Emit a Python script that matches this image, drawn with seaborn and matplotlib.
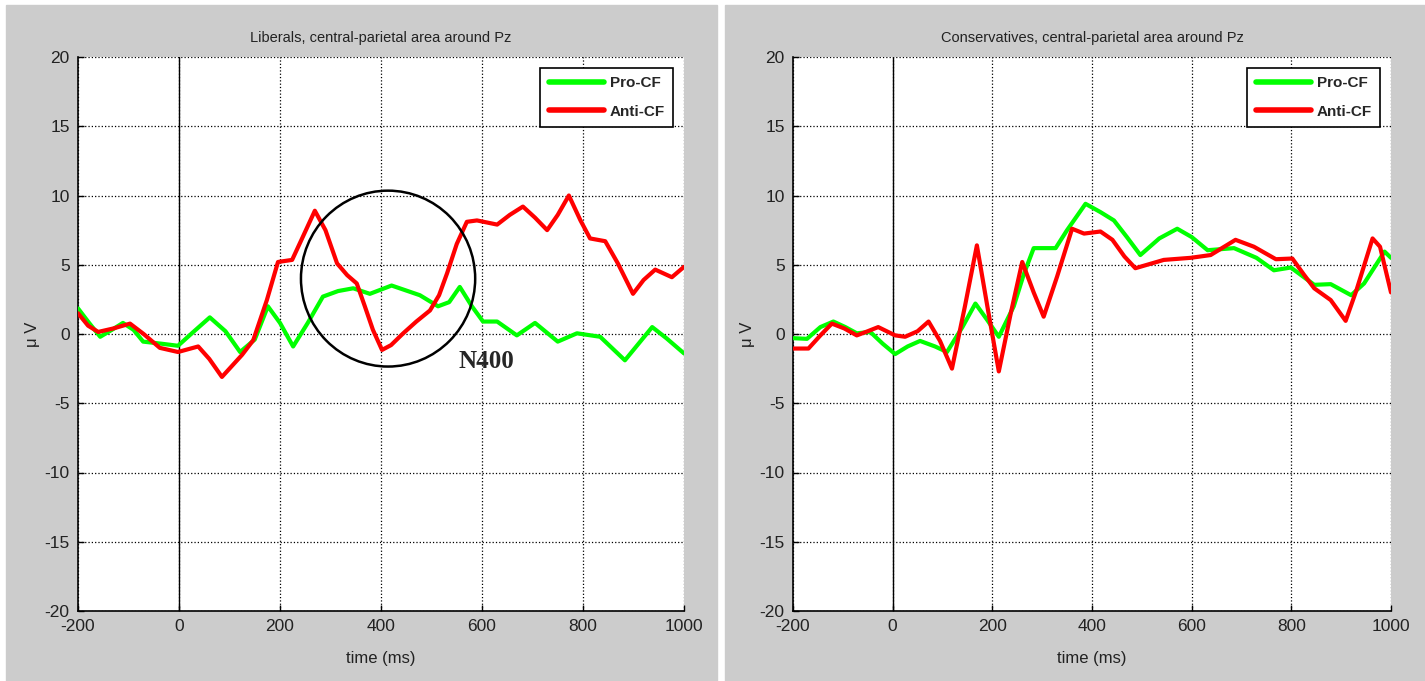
import matplotlib
matplotlib.use("Agg")
import matplotlib.pyplot as plt
import pandas as pd
import seaborn as sns
import numpy as np
from matplotlib.patches import Rectangle, Ellipse

# ---- data (time in ms, amplitude in uV) ----
lib_pro_t = [-200, -178, -156, -133, -111, -90, -71, -35, -2, 30, 61, 92, 121, 150, 176, 200,
             226, 255, 285, 315, 345, 378, 421, 477, 513, 535, 556, 580, 602, 630, 669, 705,
             750, 788, 834, 883, 937, 965, 1000]
lib_pro_v = [1.85, 0.8, -0.2, 0.3, 0.8, 0.3, -0.55, -0.7, -0.85, 0.2, 1.2, 0.2, -1.3, -0.4, 2.0, 0.8,
             -0.9, 0.8, 2.7, 3.1, 3.3, 2.9, 3.5, 2.8, 2.0, 2.3, 3.4, 2.0, 0.9, 0.9, -0.1, 0.8,
             -0.55, 0.05, -0.2, -1.9, 0.5, -0.3, -1.4]

lib_anti_t = [-200, -180, -160, -130, -97, -70, -38, -2, 38, 60, 85, 105, 125, 147, 174, 196,
              224, 245, 269, 290, 313, 333, 352, 368, 384, 402, 420, 444, 470, 497, 515, 531,
              550, 570, 590, 630, 655, 681, 705, 729, 750, 772, 795, 814, 844, 869, 899, 920,
              943, 976, 1000]
lib_anti_v = [1.5, 0.6, 0.15, 0.4, 0.75, 0.0, -1.0, -1.3, -0.9, -1.8, -3.1, -2.3, -1.5, -0.45, 2.45, 5.2,
              5.35, 7.0, 8.9, 7.5, 5.1, 4.25, 3.65, 2.0, 0.3, -1.15, -0.8, 0.05, 0.9, 1.7, 2.8, 4.4,
              6.5, 8.1, 8.2, 7.9, 8.6, 9.2, 8.4, 7.5, 8.6, 10.0, 8.2, 6.9, 6.7, 5.1, 2.9, 3.9,
              4.65, 4.1, 4.85]

con_pro_t = [-200, -172, -145, -119, -95, -72, -45, -20, 5, 30, 55, 85, 109, 140, 166, 190,
             213, 243, 263, 283, 327, 350, 387, 417, 444, 470, 497, 535, 571, 600, 632, 685,
             730, 765, 799, 846, 879, 920, 946, 987, 1000]
con_pro_v = [-0.3, -0.35, 0.5, 0.9, 0.5, 0.05, 0.15, -0.7, -1.45, -0.9, -0.5, -0.9, -1.3, 0.5, 2.2, 1.0,
             -0.2, 2.0, 4.3, 6.2, 6.2, 7.5, 9.4, 8.8, 8.2, 7.0, 5.7, 6.9, 7.6, 7.0, 6.05, 6.2,
             5.5, 4.6, 4.8, 3.55, 3.6, 2.8, 3.65, 5.95, 5.5]

con_anti_t = [-200, -169, -145, -122, -97, -72, -50, -29, 5, 25, 50, 72, 95, 119, 145, 169,
              190, 213, 237, 260, 283, 303, 330, 360, 384, 417, 441, 465, 487, 544, 598, 638,
              688, 725, 769, 802, 825, 846, 879, 909, 931, 963, 978, 1000]
con_anti_v = [-1.05, -1.05, -0.1, 0.75, 0.4, -0.1, 0.2, 0.5, -0.1, -0.2, 0.2, 0.9, -0.5, -2.5, 2.0, 6.4,
              2.0, -2.7, 1.5, 5.2, 3.0, 1.25, 4.15, 7.6, 7.25, 7.4, 6.8, 5.6, 4.75, 5.35, 5.5, 5.7,
              6.8, 6.3, 5.4, 5.45, 4.3, 3.3, 2.45, 0.95, 3.2, 6.9, 6.3, 3.0]

conditions = ["Pro-CF", "Anti-CF"]
titles = ["Liberals, central-parietal area around Pz",
          "Conservatives, central-parietal area around Pz"]
x_ticks = [-200, 0, 200, 400, 600, 800, 1000]
y_ticks = [-20, -15, -10, -5, 0, 5, 10, 15, 20]

# N400 annotation (left panel)
circle_center = (414, 4.0)
circle_size = (345, 12.7)
n400_pos = (553, -2.0)


def make_frame(pro_t, pro_v, anti_t, anti_v):
    a = pd.DataFrame({"time": pro_t, "uV": pro_v, "cond": conditions[0]})
    b = pd.DataFrame({"time": anti_t, "uV": anti_v, "cond": conditions[1]})
    return pd.concat([a, b], ignore_index=True)


frames = [make_frame(lib_pro_t, lib_pro_v, lib_anti_t, lib_anti_v),
          make_frame(con_pro_t, con_pro_v, con_anti_t, con_anti_v)]

sns.set_style("white")
plt.rcParams["font.family"] = ["Liberation Sans", "DejaVu Sans"]
plt.rcParams["axes.unicode_minus"] = False

fig = plt.figure(figsize=(14.25, 6.81), dpi=100, facecolor="white")
gray = "#cccccc"
fig.patches.append(Rectangle((6 / 1425, 0), (717 - 6) / 1425, 676 / 681,
                             transform=fig.transFigure, color=gray, zorder=-10))
fig.patches.append(Rectangle((725 / 1425, 0), 700 / 1425, 676 / 681,
                             transform=fig.transFigure, color=gray, zorder=-10))

ax_pos = [[78 / 1425, 70 / 681, 606 / 1425, 554 / 681],
          [793 / 1425, 70 / 681, 598 / 1425, 554 / 681]]
palette = {"Pro-CF": "#00ff00", "Anti-CF": "#ff0000"}

for i in range(2):
    ax = fig.add_axes(ax_pos[i])
    ax.set_facecolor("white")
    sns.lineplot(data=frames[i], x="time", y="uV", hue="cond", palette=palette,
                 estimator=None, sort=False, linewidth=3.0, ax=ax, zorder=3)
    for ln in ax.get_lines():
        ln.set_solid_joinstyle("round")
        ln.set_solid_capstyle("round")
    ax.set_xlim(-200, 1000)
    ax.set_ylim(-20, 20)
    ax.set_xticks(x_ticks)
    ax.set_yticks(y_ticks)
    ax.grid(True, linestyle=":", color="black", linewidth=0.9)
    ax.axvline(0, color="black", linewidth=1.0, zorder=2)
    for s in ["top", "right"]:
        ax.spines[s].set_visible(False)
    for s in ["left", "bottom"]:
        ax.spines[s].set_color("black")
        ax.spines[s].set_linewidth(1.2)
    ax.tick_params(direction="in", length=4, width=1, labelsize=12.5, colors="black",
                   labelcolor="#222222", left=True, bottom=True, pad=6)
    ax.set_xlabel("time (ms)", fontsize=12, labelpad=12, color="#222222")
    ax.set_ylabel("\u03bc V", fontsize=12, labelpad=3, color="#222222")
    ax.set_title(titles[i], fontsize=10.5, pad=11, color="#222222")
    leg = ax.legend(loc="upper right", frameon=True, fancybox=False, framealpha=1,
                    edgecolor="black", prop={"weight": "bold", "size": 11},
                    handlelength=3.6, borderaxespad=0.7, labelspacing=0.95,
                    borderpad=0.55, handletextpad=0.4)
    leg.get_frame().set_linewidth(1.2)
    for h in leg.get_lines():
        h.set_linewidth(4)

    if i == 0:
        ax.add_patch(Ellipse(circle_center, circle_size[0], circle_size[1],
                             fill=False, edgecolor="black", linewidth=1.8, zorder=4))
        ax.text(n400_pos[0], n400_pos[1], "N400", fontsize=18, fontweight="bold",
                family=["Liberation Serif", "DejaVu Serif"], va="center", ha="left")

fig.savefig("out.png", dpi=100, facecolor="white")
